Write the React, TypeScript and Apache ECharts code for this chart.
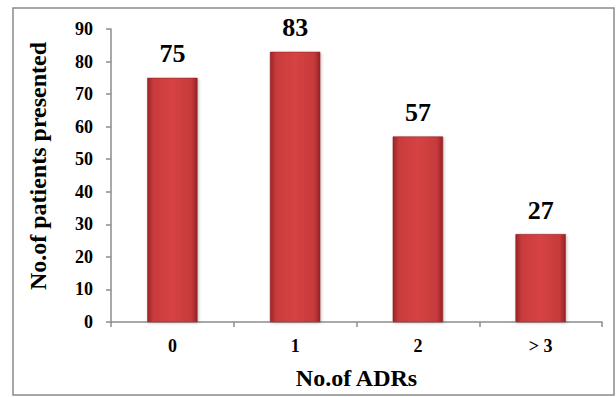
import React, { useEffect, useRef } from "react";
import * as echarts from "echarts";

const categories = ["0", "1", "2", "> 3"];
const patients = [75, 83, 57, 27];
const yTicks = { min: 0, max: 90, interval: 10 };
const xTitle = "No.of ADRs";
const yTitle = "No.of patients presented";

const FONT = "'Liberation Serif', 'Times New Roman', serif";

export default function App() {
  const ref = useRef<HTMLDivElement>(null);
  useEffect(() => {
    if (!ref.current) return;
    const chart = echarts.init(ref.current, undefined, { renderer: "svg" });
    const barColor = new echarts.graphic.LinearGradient(0, 0, 1, 0, [
      { offset: 0, color: "#9c2426" },
      { offset: 0.12, color: "#c93b3c" },
      { offset: 0.5, color: "#d64344" },
      { offset: 0.88, color: "#c63a3b" },
      { offset: 1, color: "#982224" },
    ]);
    chart.setOption({
      animation: false,
      backgroundColor: "#ffffff",
      graphic: [
        {
          type: "rect",
          shape: { x: 13, y: 8, width: 601, height: 387 },
          style: { fill: "none", stroke: "#8a8a8a", lineWidth: 1.5 },
          silent: true,
          z: -1,
        },
      ],
      grid: { left: 111, right: 14, top: 29, bottom: 75 },
      xAxis: {
        type: "category",
        data: categories,
        boundaryGap: true,
        name: xTitle,
        nameLocation: "middle",
        nameGap: 44,
        nameTextStyle: { fontFamily: FONT, fontWeight: "bold", fontSize: 24, color: "#000" },
        axisLine: { lineStyle: { color: "#8c8c8c", width: 1.5 } },
        axisTick: { show: true, length: 5, lineStyle: { color: "#8c8c8c", width: 1.5 } },
        axisLabel: { fontFamily: FONT, fontWeight: "bold", fontSize: 18, color: "#000", margin: 15 },
      },
      yAxis: {
        type: "value",
        min: yTicks.min,
        max: yTicks.max,
        interval: yTicks.interval,
        name: yTitle,
        nameLocation: "middle",
        nameGap: 61,
        nameTextStyle: {
          fontFamily: FONT,
          fontWeight: "bold",
          fontSize: 24,
          color: "#000",
          padding: [0, 0, 0, 19],
        },
        axisLine: { show: true, lineStyle: { color: "#8c8c8c", width: 1.5 } },
        axisTick: { show: true, length: 5, lineStyle: { color: "#8c8c8c", width: 1.5 } },
        splitLine: { show: false },
        axisLabel: { fontFamily: FONT, fontWeight: "bold", fontSize: 18, color: "#000", margin: 18 },
      },
      series: [
        {
          type: "bar",
          data: patients,
          barWidth: "41%",
          itemStyle: {
            color: barColor,
            borderColor: "#8e1f21",
            borderWidth: 0.5,
            shadowColor: "rgba(0,0,0,0.25)",
            shadowBlur: 3,
            shadowOffsetX: 1,
            shadowOffsetY: 1,
          },
          label: {
            show: true,
            position: "top",
            distance: 11,
            fontFamily: FONT,
            fontWeight: "bold",
            fontSize: 26,
            color: "#000",
          },
        },
      ],
    });
    return () => chart.dispose();
  }, []);
  return (
    <div
      ref={ref}
      style={{ position: "fixed", left: 0, top: 0, width: 616, height: 397 }}
    />
  );
}
